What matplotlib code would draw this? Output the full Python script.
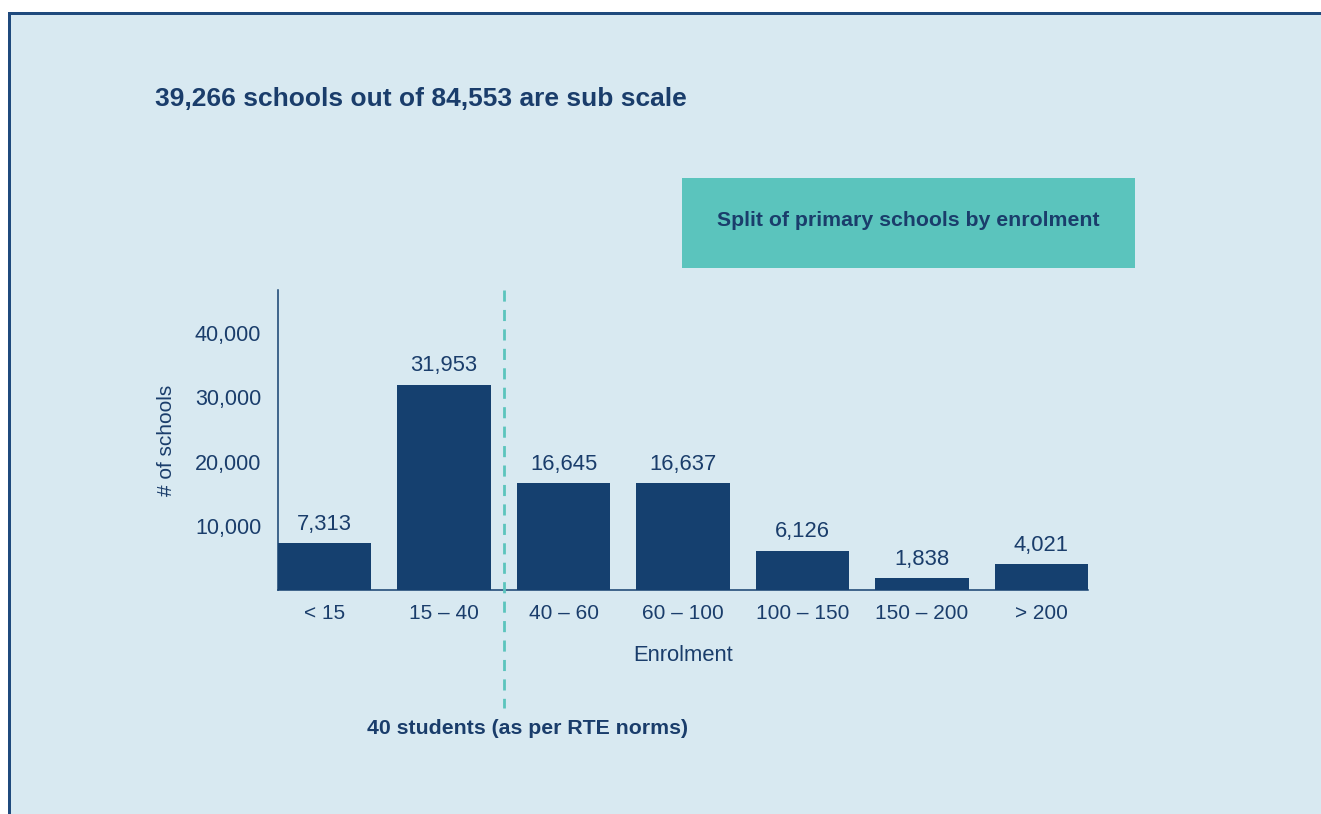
import matplotlib.pyplot as plt
from matplotlib.patches import Rectangle

# Data
categories = ["< 15", "15 – 40", "40 – 60", "60 – 100", "100 – 150", "150 – 200", "> 200"]
schools = [7313, 31953, 16645, 16637, 6126, 1838, 4021]
y_ticks = [10000, 20000, 30000, 40000]

title = "39,266 schools out of 84,553 are sub scale"
box_text = "Split of primary schools by enrolment"
norm_text = "40 students (as per RTE norms)"

NAVY = "#15406f"
TEXT = "#1a3d6b"
TEAL = "#5bc4bd"
BG = "#d8e9f1"
BORDER = "#1f4a7d"

W, H = 1321, 814
plt.rcParams["font.family"] = ["Liberation Sans", "DejaVu Sans"]

fig = plt.figure(figsize=(W / 100, H / 100), dpi=100)
fig.patch.set_facecolor("white")

# panel background with border on top and left
fig.patches.append(Rectangle((8 / W, 0), 1, (H - 12) / H, transform=fig.transFigure,
                             facecolor=BG, edgecolor="none", zorder=-10))
fig.patches.append(Rectangle((8 / W, (H - 15) / H), 1, 3 / H, transform=fig.transFigure,
                             facecolor=BORDER, edgecolor="none", zorder=-9))
fig.patches.append(Rectangle((8 / W, 0), 3 / W, (H - 12) / H, transform=fig.transFigure,
                             facecolor=BORDER, edgecolor="none", zorder=-9))

# teal header box
fig.patches.append(Rectangle((682 / W, (H - 268) / H), 453 / W, 90 / H, transform=fig.transFigure,
                             facecolor=TEAL, edgecolor="none", zorder=-9))
fig.text(908 / W, (H - 221) / H, box_text, ha="center", va="center",
         fontsize=15.3, fontweight="bold", color=TEXT)

fig.text(155 / W, (H - 99) / H, title, ha="left", va="center",
         fontsize=19, fontweight="bold", color=TEXT)

ax = fig.add_axes([278 / W, (H - 590) / H, 810 / W, 300 / H])
ax.set_facecolor("none")
ax.set_zorder(5)

x = list(range(len(categories)))
bars = ax.bar(x, schools, width=0.78, color=NAVY, zorder=2)
for b, v in zip(bars, schools):
    ax.text(b.get_x() + b.get_width() / 2, v + 1300, f"{v:,}", ha="center", va="bottom",
            fontsize=15.8, color=TEXT)

ax.set_xlim(-0.39, len(categories) - 0.61)
ax.set_ylim(0, 46700)
ax.set_xticks(x)
ax.set_xticklabels(categories, fontsize=15, color=TEXT)
ax.set_yticks(y_ticks)
ax.set_yticklabels([f"{t:,}" for t in y_ticks], fontsize=15.5, color=TEXT)
ax.tick_params(axis="both", length=0)
ax.tick_params(axis="x", pad=10)
ax.tick_params(axis="y", pad=12)

for s in ["top", "right"]:
    ax.spines[s].set_visible(False)
for s in ["left", "bottom"]:
    ax.spines[s].set_color(NAVY)
    ax.spines[s].set_linewidth(1.1)

ax.set_xlabel("Enrolment", fontsize=15.8, color=TEXT, labelpad=16)
ax.set_ylabel("# of schools", fontsize=15, color=TEXT, labelpad=14)

# RTE norm threshold line between 15-40 and 40-60
ax.plot([1.5, 1.5], [1.0, -0.393], transform=ax.get_xaxis_transform(), color=TEAL,
        linestyle=(0, (4, 3)), linewidth=2, clip_on=False, zorder=3)
ax.text(1.7, -0.46, norm_text, transform=ax.get_xaxis_transform(), ha="center", va="center",
        fontsize=15.3, fontweight="bold", color=TEXT)

fig.savefig("out.png", dpi=100, facecolor=fig.get_facecolor())
